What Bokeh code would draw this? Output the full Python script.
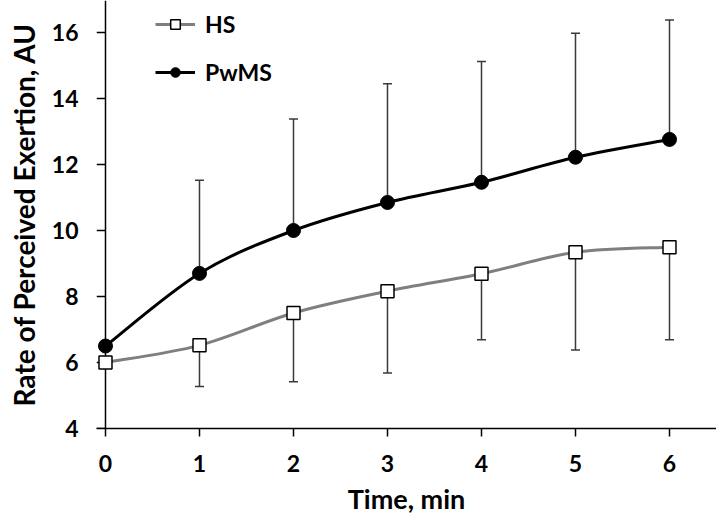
import math
from bokeh.plotting import figure
from bokeh.models import (ColumnDataSource, Whisker, TeeHead, Legend, LegendItem,
                          FixedTicker, Range1d, Span)
from bokeh.embed import file_html
from bokeh.resources import INLINE

# ---- data ----
time = [0, 1, 2, 3, 4, 5, 6]
pwms = [6.5, 8.7, 10.0, 10.85, 11.46, 12.22, 12.76]
hs = [6.0, 6.52, 7.5, 8.16, 8.69, 9.34, 9.49]
err_time = [1, 2, 3, 4, 5, 6]
pwms_upper = [11.52, 13.38, 14.45, 15.12, 15.98, 16.38]
hs_lower = [5.27, 5.42, 5.68, 6.69, 6.38, 6.69]
x_ticks = [0, 1, 2, 3, 4, 5, 6]
y_ticks = [4, 6, 8, 10, 12, 14, 16]
x_title = "Time, min"
y_title = "Rate of Perceived Exertion, AU"

FONT = "Lato"

p = figure(width=716, height=520, output_backend="svg", toolbar_location=None,
           x_range=Range1d(-0.0957, 6.5), y_range=Range1d(4, 16.97),
           min_border_left=96, min_border_right=0, min_border_top=0,
           min_border_bottom=92)
p.outline_line_color = None
p.xgrid.visible = False
p.ygrid.visible = False
p.background_fill_color = "white"


def smooth(xs, ys):
    n = len(xs)
    d = dict(x0=[], y0=[], x1=[], y1=[], cx0=[], cy0=[], cx1=[], cy1=[])
    for i in range(n - 1):
        a = i - 1 if i > 0 else i
        b = i + 2 if i + 2 < n else i + 1
        d["x0"].append(xs[i]); d["y0"].append(ys[i])
        d["x1"].append(xs[i + 1]); d["y1"].append(ys[i + 1])
        d["cx0"].append(xs[i] + (xs[i + 1] - xs[a]) / 6.0)
        d["cy0"].append(ys[i] + (ys[i + 1] - ys[a]) / 6.0)
        d["cx1"].append(xs[i + 1] - (xs[b] - xs[i]) / 6.0)
        d["cy1"].append(ys[i + 1] - (ys[b] - ys[i]) / 6.0)
    return d


# y axis line drawn at x = first x tick, ticks as short rays
y_axis_at = x_ticks[0]
p.add_layout(Span(location=y_axis_at, dimension="height", line_color="black",
                  line_width=1.5, level="underlay"))
p.ray(x=[y_axis_at] * len(y_ticks), y=y_ticks, length=9, length_units="screen",
      angle=math.pi, line_color="black", line_width=1.5, level="underlay")

err_col = "#3a3a3a"
ws1 = ColumnDataSource(dict(base=err_time, lower=pwms[1:], upper=pwms_upper))
w1 = Whisker(source=ws1, base="base", lower="lower", upper="upper",
             line_color=err_col, line_width=1.5,
             upper_head=TeeHead(size=9, line_color=err_col, line_width=1.5),
             lower_head=None, level="underlay")
ws2 = ColumnDataSource(dict(base=err_time, lower=hs_lower, upper=hs[1:]))
w2 = Whisker(source=ws2, base="base", lower="lower", upper="upper",
             line_color=err_col, line_width=1.5,
             lower_head=TeeHead(size=9, line_color=err_col, line_width=1.5),
             upper_head=None, level="underlay")
p.add_layout(w1)
p.add_layout(w2)

hs_curve = p.bezier(source=ColumnDataSource(smooth(time, hs)), x0="x0", y0="y0",
                    x1="x1", y1="y1", cx0="cx0", cy0="cy0", cx1="cx1", cy1="cy1",
                    line_color="#7f7f7f", line_width=3)
pw_curve = p.bezier(source=ColumnDataSource(smooth(time, pwms)), x0="x0", y0="y0",
                    x1="x1", y1="y1", cx0="cx0", cy0="cy0", cx1="cx1", cy1="cy1",
                    line_color="black", line_width=3)

hs_pts = p.scatter(time, hs, marker="square", size=13, fill_color="white",
                   line_color="black", line_width=1.5)
pw_pts = p.scatter(time, pwms, marker="circle", size=14, fill_color="black",
                   line_color="black")

legend = Legend(items=[LegendItem(label="HS", renderers=[hs_curve, hs_pts]),
                       LegendItem(label="PwMS", renderers=[pw_curve, pw_pts])],
                location=(59, 342), orientation="vertical",
                border_line_color=None, background_fill_alpha=0,
                padding=0, margin=0, spacing=20,
                glyph_width=40, glyph_height=24, label_height=24,
                label_standoff=10,
                label_text_font=FONT, label_text_font_style="bold",
                label_text_font_size="23px", label_text_color="black")
p.add_layout(legend)

for ax in (p.xaxis, p.yaxis):
    ax.major_tick_line_width = 1.5
    ax.minor_tick_line_color = None
    ax.major_label_text_font = FONT
    ax.major_label_text_font_style = "bold"
    ax.major_label_text_font_size = "23px"
    ax.major_label_text_color = "black"
    ax.axis_label_text_font = FONT
    ax.axis_label_text_font_style = "bold"
    ax.axis_label_text_color = "black"

p.xaxis.ticker = FixedTicker(ticks=x_ticks)
p.yaxis.ticker = FixedTicker(ticks=y_ticks)
p.xaxis.axis_line_color = "black"
p.xaxis.axis_line_width = 1.5
p.xaxis.major_tick_line_color = "black"
p.xaxis.major_tick_out = 8
p.xaxis.major_tick_in = 0
p.xaxis.bounds = (-0.0957, 6.5)
p.xaxis.major_label_standoff = 18
p.xaxis.axis_label = x_title
p.xaxis.axis_label_standoff = 7
p.xaxis.axis_label_text_font_size = "27px"

p.yaxis.axis_line_color = None
p.yaxis.major_tick_line_color = None
p.yaxis.major_tick_out = 0
p.yaxis.major_tick_in = 0
p.yaxis.major_label_standoff = 18
p.yaxis.axis_label = y_title
p.yaxis.axis_label_standoff = 8
p.yaxis.axis_label_text_font_size = "28px"

open("out.html", "w").write(file_html(p, INLINE))
